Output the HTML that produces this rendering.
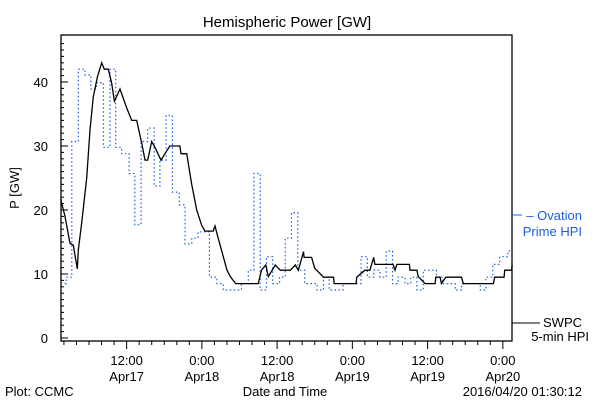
<!DOCTYPE html>
<html><head><meta charset="utf-8"><style>
body{margin:0;background:#fff;}
svg text{font-family:"Liberation Sans",sans-serif;font-size:13px;}
</style></head><body>
<svg id="chart" width="600" height="400" viewBox="0 0 600 400">
<rect width="600" height="400" fill="#fff"/>
<text x="287" y="27" text-anchor="middle" style="font-size:15px">Hemispheric Power [GW]</text>
<text transform="translate(19,188) rotate(-90)" text-anchor="middle">P [GW]</text>
<rect x="61" y="35" width="451" height="306" fill="none" stroke="#000" stroke-width="1.3"/>
<g id="yticks"></g><g id="xticks"></g>
<polyline id="ovation" fill="none" stroke="#1a5fe6" stroke-width="1.2" stroke-dasharray="1.5,2.5"/>
<polyline id="swpc" fill="none" stroke="#000" stroke-width="1.3"/>
<text x="582" y="220" text-anchor="end" fill="#1a5fe6">– Ovation</text>
<text x="582" y="236" text-anchor="end" fill="#1a5fe6">Prime HPI</text>
<line x1="512" y1="215" x2="522" y2="215" stroke="#1a5fe6"/>
<line x1="512" y1="323" x2="540" y2="323" stroke="#000"/>
<text x="582" y="327" text-anchor="end">SWPC</text>
<text x="589" y="341" text-anchor="end">5-min HPI</text>
<text x="5" y="396">Plot: CCMC</text>
<text x="285" y="396" text-anchor="middle">Date and Time</text>
<text x="582" y="396" text-anchor="end">2016/04/20 01:30:12</text>
</svg>
<script>
const yTicks=[0,10,20,30,40];
const xTickHours=[12,24,36,48,60,72];
const xTickTimes=["12:00","0:00","12:00","0:00","12:00","0:00"];
const xTickDates=["Apr17","Apr18","Apr18","Apr19","Apr19","Apr20"];
const swpcT=[1.48,2.17,2.97,3.49,4.13,4.29,4.83,5.63,6.16,6.69,7.33,8.02,8.44,9.08,9.61,10.04,10.41,10.94,12.0,12.81,13.6,14.5,14.93,15.36,16.0,16.5,17.48,18.1,18.9,20.5,20.67,21.58,22.38,23.18,23.97,24.5,25.8,26.1,26.6,27.2,28.0,28.6,29.4,33.0,33.5,34.2,34.6,35.7,36.5,38.1,38.9,39.4,40.2,40.3,41.5,42.0,43.4,45.0,45.1,48.6,48.7,50.0,50.8,51.4,51.6,54.5,54.8,55.1,57.1,57.2,58.3,58.5,59.6,61.2,61.3,62.0,62.2,62.9,65.4,65.7,70.5,70.7,72.2,72.3,73.4,73.5];
const swpcV=[21.7,19,14.8,14.5,10.8,13.7,18,25,32.5,37.7,40.8,43,42,42,39.8,37,37.8,38.9,36,34,34,30,27.8,27.8,30.7,29.8,27.8,28.8,30,30,28.8,28.8,24,20,17.6,16.7,16.7,17.5,15.6,13.5,10.6,9.5,8.5,8.5,10.6,11.4,9.6,11.4,10.6,10.6,11.4,10.6,13.5,12.6,12.6,10.9,9.5,9.5,8.5,8.5,9.5,10.6,10.6,12.6,11.5,11.5,10.6,11.5,11.5,10.6,10.6,9.6,8.5,8.5,9.5,9.5,8.5,9.5,9.5,8.5,8.5,9.5,9.5,10.6,10.6,11.4];
const ovT=[1.48,2.34,3.25,4.3,5.36,6.3,7.2,8.3,9.35,10.25,11.2,12.4,13.3,14.3,15.36,16.4,17.3,18.3,19.3,20.4,21.3,22.4,23.4,25.2,26.4,27.4,30.3,31.4,32.3,33.3,34.3,35.3,36.4,37.3,38.3,39.3,40.4,42.4,43.4,44.3,46.5,49.4,50.4,51.4,52.4,53.4,54.4,55.3,56.4,57.3,58.3,59.3,61.4,62.4,64.4,65.4,68.4,69.3,70.4,71.5,72.8,73.5];
const ovV=[8.5,9.5,30.7,42,41.1,38.9,39.9,29.8,42,29.8,28.8,25.7,17.7,30.7,32.8,23.75,27.8,34.8,22.8,20.8,14.7,15.6,16.6,9.5,8.5,7.5,8.5,10.6,25.7,7.5,12.7,8.5,9.5,15.6,19.6,10.6,8.5,7.5,9.5,7.5,8.5,12.7,9.5,10.6,9.5,13.6,8.5,9.5,8.5,9.5,7.5,10.6,9.5,8.5,7.5,8.5,7.5,9.5,11.5,12.7,13.6,13.6];
const X=t=>51.4+6.27*t;
const Y=v=>338-6.4*v;
const NS="http://www.w3.org/2000/svg";
function mk(tag,attrs,parent,txt){const e=document.createElementNS(NS,tag);for(const k in attrs)e.setAttribute(k,attrs[k]);if(txt!==undefined)e.textContent=txt;parent.appendChild(e);return e;}
const yg=document.getElementById('yticks');
for(let v=0;v<=46;v++){const l=mk('line',{x1:61,x2:61+(v%10===0?7:3),y1:Y(v),y2:Y(v),stroke:'#000'},yg);

}
yTicks.forEach(v=>{const t=mk('text',{x:48,y:Y(v)+5,'text-anchor':'end'},yg,String(v));

});
const xg=document.getElementById('xticks');
for(let h=2;h<=72;h+=2){const l=mk('line',{x1:X(h),x2:X(h),y1:341,y2:341+(h%12===0?8:4),stroke:'#000'},xg);

}
xTickHours.forEach((h,i)=>{const a=mk('text',{x:X(h),y:365,'text-anchor':'middle'},xg,xTickTimes[i]);


const b=mk('text',{x:X(h),y:381,'text-anchor':'middle'},xg,xTickDates[i]);

});
document.getElementById('swpc').setAttribute('points',swpcT.map((t,i)=>X(t).toFixed(1)+','+Y(swpcV[i]).toFixed(1)).join(' '));
let pts=[];ovT.forEach((t,i)=>{if(i>0)pts.push(X(t).toFixed(1)+','+Y(ovV[i-1]).toFixed(1));pts.push(X(t).toFixed(1)+','+Y(ovV[i]).toFixed(1));});
document.getElementById('ovation').setAttribute('points',pts.join(' '));
</script>
</body></html>
